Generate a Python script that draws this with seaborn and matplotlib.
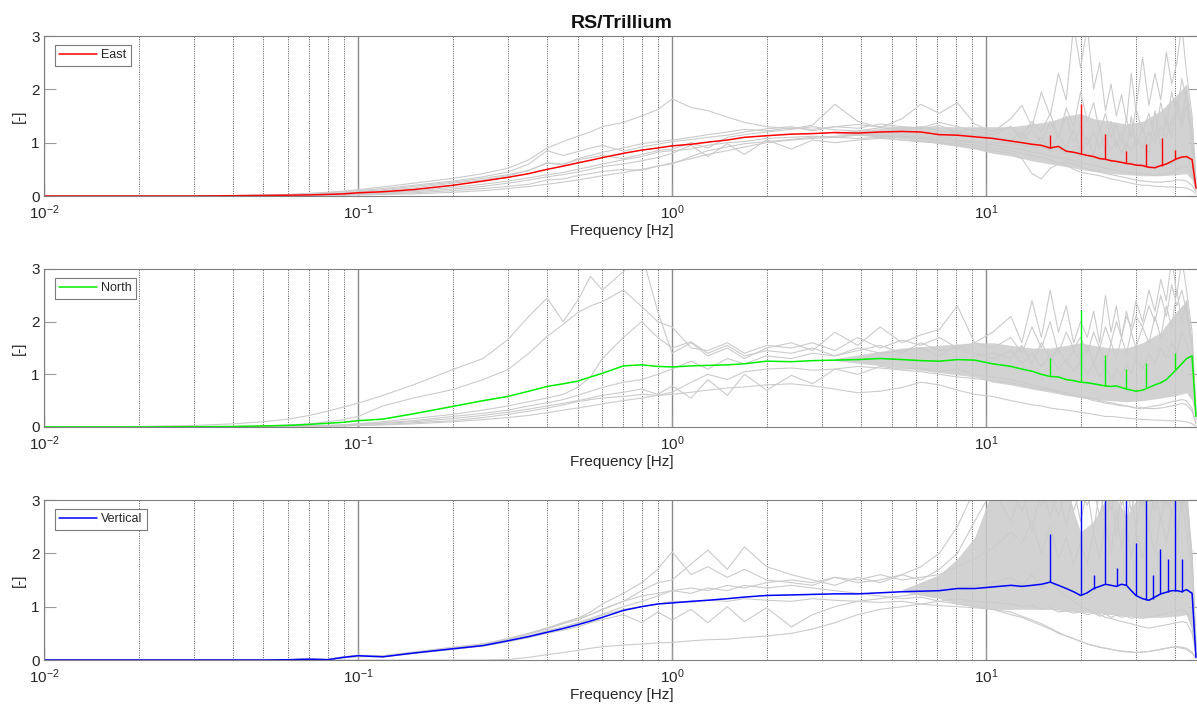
import matplotlib
matplotlib.use("Agg")
import matplotlib.pyplot as plt
import seaborn as sns
from matplotlib.ticker import LogLocator, FixedLocator, NullFormatter

sns.set_style("white")
plt.rcParams['font.family'] = ['Liberation Sans', 'DejaVu Sans']
plt.rcParams['mathtext.fontset'] = 'custom'
plt.rcParams['mathtext.rm'] = 'Liberation Sans'
plt.rcParams['mathtext.it'] = 'Liberation Sans:italic'
plt.rcParams['axes.unicode_minus'] = False

# ---------------- data ----------------
FREQ = [0.01, 0.02, 0.03, 0.04, 0.05, 0.06, 0.07, 0.08, 0.09, 0.1,
        0.12, 0.15, 0.2, 0.25, 0.3, 0.35, 0.4, 0.45, 0.5, 0.55,
        0.6, 0.7, 0.8, 0.9, 1.0, 1.15, 1.3, 1.5, 1.7, 2.0,
        2.4, 2.8, 3.3, 3.9, 4.6, 5.4, 6.2, 7.1, 8.1, 9.2,
        10.5, 12, 13, 14, 15, 16, 17, 18, 19, 20,
        21, 22, 23, 24, 25, 26, 27, 28, 29, 30,
        31.5, 33, 34.5, 36, 37.5, 39, 40.5, 42, 43.5, 45.3, 46.6]

# ---- East ----
EAST_MEAN = [0, 0, 0, 0.005, 0.01, 0.015, 0.02, 0.03, 0.04, 0.06,
             0.08, 0.12, 0.2, 0.28, 0.35, 0.42, 0.5, 0.56, 0.62, 0.67,
             0.72, 0.8, 0.86, 0.9, 0.94, 0.97, 1.01, 1.05, 1.1, 1.13,
             1.16, 1.17, 1.19, 1.18, 1.2, 1.21, 1.2, 1.15, 1.14, 1.11,
             1.08, 1.03, 1.0, 0.97, 0.95, 0.9, 0.93, 0.84, 0.82, 0.79,
             0.76, 0.74, 0.7, 0.69, 0.66, 0.65, 0.63, 0.61, 0.6, 0.58,
             0.57, 0.54, 0.53, 0.57, 0.6, 0.65, 0.7, 0.73, 0.74, 0.68, 0.15]
EAST_G1 = [0, 0, 0.005, 0.01, 0.02, 0.03, 0.05, 0.07, 0.09, 0.12,
           0.17, 0.24, 0.33, 0.42, 0.52, 0.68, 0.9, 1.02, 1.12, 1.2,
           1.3, 1.38, 1.5, 1.62, 1.82, 1.66, 1.6, 1.48, 1.38, 1.3,
           1.26, 1.33, 1.72, 1.4, 1.28, 1.45, 1.72, 1.55, 1.75, 1.35,
           1.2, 1.45, 1.7, 1.3, 1.95, 1.5, 2.3, 1.8, 3.2, 2.4,
           3.2, 2.0, 2.5, 1.6, 2.1, 1.5, 1.9, 1.4, 2.3, 1.6,
           2.6, 1.7, 2.3, 1.8, 2.7, 2.1, 2.5, 3.2, 2.3, 1.5, 0.3]
EAST_G2 = [0, 0, 0.005, 0.01, 0.015, 0.025, 0.04, 0.06, 0.08, 0.1,
           0.14, 0.2, 0.28, 0.36, 0.45, 0.6, 0.85, 0.76, 0.83, 0.9,
           0.95, 0.84, 0.92, 0.97, 1.02, 1.06, 1.1, 1.14, 1.2, 1.26,
           1.3, 1.22, 1.3, 1.34, 1.3, 1.28, 1.26, 1.32, 1.2, 1.26,
           1.22, 1.3, 1.12, 1.4, 1.2, 1.55, 1.1, 1.65, 1.3, 1.95,
           1.4, 1.75, 1.2, 1.55, 1.1, 1.35, 1.0, 1.45, 1.1, 1.65,
           1.2, 1.55, 1.1, 1.75, 1.3, 1.95, 1.5, 2.2, 1.8, 1.2, 0.2]
EAST_G3 = [0, 0, 0, 0, 0.005, 0.01, 0.015, 0.02, 0.03, 0.04,
           0.06, 0.08, 0.13, 0.18, 0.24, 0.3, 0.36, 0.4, 0.45, 0.5,
           0.55, 0.6, 0.66, 0.72, 0.8, 0.95, 0.74, 0.98, 0.78, 1.05,
           0.88, 1.05, 1.0, 1.05, 1.08, 1.05, 1.02, 1.0, 0.95, 0.9,
           0.85, 0.8, 0.7, 0.42, 0.32, 0.52, 0.6, 0.64, 0.6, 0.55,
           0.5, 0.48, 0.45, 0.42, 0.4, 0.38, 0.36, 0.34, 0.32, 0.3,
           0.28, 0.27, 0.26, 0.26, 0.27, 0.28, 0.3, 0.3, 0.28, 0.2, 0.08]
EAST_G4 = [0, 0, 0, 0, 0, 0.005, 0.01, 0.012, 0.015, 0.02,
           0.03, 0.04, 0.07, 0.1, 0.14, 0.18, 0.22, 0.26, 0.3, 0.34,
           0.38, 0.44, 0.5, 0.56, 0.62, 0.7, 0.78, 0.85, 0.92, 1.0,
           1.05, 1.08, 1.1, 1.08, 1.1, 1.05, 1.02, 1.0, 0.98, 0.95,
           0.9, 0.85, 0.8, 0.76, 0.72, 0.68, 0.62, 0.58, 0.5, 0.45,
           0.42, 0.4, 0.38, 0.35, 0.32, 0.3, 0.28, 0.26, 0.24, 0.22,
           0.2, 0.2, 0.18, 0.18, 0.17, 0.17, 0.16, 0.16, 0.15, 0.1, 0.04]
EAST_G5 = [0, 0, 0, 0.005, 0.01, 0.02, 0.03, 0.04, 0.05, 0.07,
           0.1, 0.15, 0.24, 0.3, 0.38, 0.48, 0.62, 0.58, 0.7, 0.76,
           0.82, 0.9, 0.98, 1.02, 1.05, 1.1, 1.15, 1.2, 1.25, 1.22,
           1.28, 1.25, 1.3, 1.27, 1.35, 1.3, 1.28, 1.38, 1.3, 1.22,
           1.15, 1.3, 1.05, 1.25, 1.0, 1.4, 1.1, 1.5, 1.0, 1.3,
           0.95, 1.2, 0.9, 1.1, 0.85, 1.05, 0.8, 1.0, 0.85, 1.1,
           0.9, 1.2, 1.0, 1.3, 1.1, 1.4, 1.6, 1.3, 1.7, 1.0, 0.2]
EAST_G6 = [0, 0, 0, 0, 0.005, 0.01, 0.02, 0.025, 0.03, 0.04,
           0.06, 0.1, 0.16, 0.22, 0.28, 0.34, 0.4, 0.44, 0.5, 0.55,
           0.6, 0.68, 0.74, 0.82, 0.85, 0.88, 0.95, 1.0, 1.02, 1.08,
           1.1, 1.12, 1.1, 1.14, 1.12, 1.1, 1.08, 1.05, 1.02, 1.0,
           0.96, 0.9, 0.88, 0.82, 0.8, 0.75, 0.72, 0.7, 0.66, 0.62,
           0.6, 0.58, 0.55, 0.52, 0.5, 0.48, 0.46, 0.45, 0.44, 0.42,
           0.42, 0.4, 0.38, 0.4, 0.42, 0.45, 0.5, 0.55, 0.55, 0.4, 0.1]
EAST_G7 = [0, 0, 0, 0.005, 0.01, 0.02, 0.03, 0.05, 0.06, 0.08,
           0.12, 0.18, 0.26, 0.33, 0.4, 0.48, 0.62, 0.6, 0.68, 0.72,
           0.76, 0.7, 0.78, 0.85, 0.88, 1.0, 0.9, 1.1, 1.15, 1.2,
           1.25, 1.3, 1.24, 1.22, 1.28, 1.24, 1.3, 1.22, 1.18, 1.15,
           1.1, 1.05, 1.2, 0.95, 1.1, 0.85, 1.15, 0.9, 1.25, 0.8,
           1.1, 0.75, 1.3, 0.8, 1.4, 0.9, 1.2, 0.8, 1.5, 0.9,
           1.3, 0.8, 1.6, 0.9, 1.5, 1.1, 1.8, 1.4, 2.0, 0.8, 0.15]
EAST_G8 = [0, 0, 0, 0, 0, 0.005, 0.01, 0.015, 0.02, 0.03,
           0.04, 0.06, 0.1, 0.14, 0.18, 0.22, 0.3, 0.32, 0.38, 0.42,
           0.46, 0.5, 0.48, 0.56, 0.6, 0.74, 0.85, 0.92, 0.98, 1.02,
           1.06, 1.1, 1.12, 1.15, 1.14, 1.12, 1.1, 1.1, 1.05, 1.02,
           1.0, 0.98, 0.95, 0.9, 0.92, 0.85, 0.88, 0.8, 0.85, 0.75,
           0.8, 0.7, 0.75, 0.65, 0.7, 0.62, 0.66, 0.58, 0.64, 0.56,
           0.6, 0.52, 0.58, 0.55, 0.62, 0.6, 0.68, 0.7, 0.72, 0.5, 0.12]
# dense grey mass (envelope of the many overlapping records)
EAST_BAND_F = [3.3, 5.4, 9.2, 10.5, 12, 14, 16, 18, 20, 22, 25, 28, 31.5, 36, 40.5, 43.5, 45.3, 46.6]
EAST_BAND_LO = [1.17, 1.08, 0.88, 0.8, 0.75, 0.66, 0.6, 0.55, 0.5, 0.46, 0.42, 0.4, 0.38, 0.38, 0.4, 0.42, 0.3, 0.1]
EAST_BAND_HI = [1.2, 1.3, 1.3, 1.3, 1.3, 1.35, 1.4, 1.5, 1.55, 1.45, 1.4, 1.35, 1.4, 1.6, 1.9, 2.1, 1.4, 0.3]
EAST_SPIKE_F = [16.0, 20.1, 24.0, 28.0, 32.3, 36.3, 40.1]
EAST_SPIKE_BASE = [0.9, 0.79, 0.69, 0.61, 0.55, 0.57, 0.7]
EAST_SPIKE_TOP = [1.14, 1.72, 1.16, 0.85, 0.97, 1.09, 0.87]

# ---- North ----
NORTH_MEAN = [0, 0, 0.005, 0.01, 0.02, 0.03, 0.05, 0.07, 0.09, 0.12,
              0.15, 0.25, 0.39, 0.5, 0.58, 0.68, 0.77, 0.82, 0.87, 0.95,
              1.02, 1.16, 1.18, 1.15, 1.14, 1.16, 1.17, 1.18, 1.2, 1.25,
              1.24, 1.26, 1.27, 1.28, 1.3, 1.28, 1.26, 1.25, 1.28, 1.27,
              1.2, 1.15, 1.1, 1.06, 1.0, 0.96, 0.95, 0.9, 0.88, 0.85,
              0.84, 0.82, 0.8, 0.78, 0.77, 0.78, 0.75, 0.72, 0.7, 0.68,
              0.7, 0.75, 0.8, 0.84, 0.9, 1.0, 1.1, 1.2, 1.3, 1.35, 0.2]
NORTH_G1 = [0, 0.01, 0.03, 0.06, 0.1, 0.15, 0.22, 0.3, 0.38, 0.45,
            0.6, 0.8, 1.09, 1.3, 1.66, 2.1, 2.45, 2.0, 2.4, 2.86,
            2.6, 2.95, 3.3, 2.2, 1.4, 1.6, 1.35, 1.5, 1.3, 1.5,
            1.6, 1.45, 1.8, 1.55, 1.9, 1.6, 1.75, 1.85, 2.3, 1.6,
            1.8, 2.1, 1.6, 2.4, 1.7, 2.6, 1.8, 2.3, 1.6, 2.0,
            1.7, 2.2, 1.6, 2.5, 1.8, 2.3, 1.7, 2.1, 1.9, 2.4,
            2.0, 2.6, 2.2, 2.8, 2.4, 3.2, 2.5, 3.2, 2.6, 1.8, 0.3]
NORTH_G2 = [0, 0, 0.005, 0.01, 0.02, 0.04, 0.06, 0.1, 0.14, 0.2,
            0.4, 0.55, 0.71, 0.9, 1.09, 1.4, 1.72, 1.95, 2.17, 2.3,
            2.38, 2.6, 2.29, 2.0, 1.9, 1.5, 1.45, 1.6, 1.4, 1.55,
            1.5, 1.6, 1.45, 1.7, 1.5, 1.65, 1.55, 1.7, 1.5, 1.6,
            1.5, 1.7, 1.4, 1.9, 1.5, 2.0, 1.4, 1.8, 1.5, 1.7,
            1.4, 1.8, 1.5, 1.9, 1.6, 2.0, 1.7, 2.2, 1.8, 2.1,
            1.9, 2.3, 2.0, 2.5, 2.1, 2.7, 2.3, 2.6, 2.2, 1.5, 0.25]
NORTH_G3 = [0, 0, 0, 0.005, 0.01, 0.015, 0.02, 0.03, 0.04, 0.06,
            0.1, 0.16, 0.24, 0.32, 0.4, 0.48, 0.55, 0.62, 0.75, 0.95,
            1.3, 1.7, 2.0, 1.7, 1.5, 1.62, 1.4, 1.55, 1.35, 1.45,
            1.4, 1.5, 1.35, 1.45, 1.55, 1.4, 1.6, 1.45, 1.5, 1.35,
            1.4, 1.3, 1.55, 1.2, 1.6, 1.3, 1.5, 1.2, 1.45, 1.25,
            1.55, 1.2, 1.5, 1.15, 1.6, 1.3, 1.7, 1.4, 1.8, 1.5,
            1.9, 1.6, 2.1, 1.7, 2.3, 1.9, 2.6, 2.0, 2.4, 1.6, 0.25]
NORTH_G4 = [0, 0, 0, 0, 0.005, 0.01, 0.015, 0.02, 0.03, 0.05,
            0.07, 0.1, 0.16, 0.22, 0.28, 0.34, 0.4, 0.45, 0.5, 0.55,
            0.6, 0.66, 0.72, 0.62, 0.78, 0.55, 0.9, 0.6, 1.0, 0.7,
            0.98, 0.82, 1.1, 1.0, 1.15, 1.1, 1.12, 1.05, 1.1, 1.0,
            0.95, 0.9, 0.85, 0.8, 0.76, 0.72, 0.68, 0.64, 0.6, 0.56,
            0.54, 0.5, 0.48, 0.45, 0.44, 0.42, 0.4, 0.4, 0.38, 0.36,
            0.36, 0.38, 0.4, 0.42, 0.45, 0.48, 0.5, 0.52, 0.5, 0.35, 0.08]
NORTH_G5 = [0, 0, 0, 0, 0, 0.005, 0.01, 0.015, 0.02, 0.03,
            0.04, 0.06, 0.1, 0.14, 0.18, 0.22, 0.27, 0.32, 0.36, 0.4,
            0.44, 0.5, 0.55, 0.6, 0.62, 0.66, 0.7, 0.74, 0.76, 0.8,
            0.82, 0.78, 0.72, 0.65, 0.68, 0.75, 0.85, 0.8, 0.7, 0.62,
            0.58, 0.5, 0.46, 0.42, 0.4, 0.36, 0.34, 0.32, 0.3, 0.28,
            0.26, 0.24, 0.22, 0.2, 0.2, 0.19, 0.18, 0.17, 0.16, 0.15,
            0.14, 0.14, 0.13, 0.13, 0.12, 0.12, 0.12, 0.11, 0.1, 0.06, 0.02]
NORTH_G6 = [0, 0, 0, 0.005, 0.01, 0.015, 0.02, 0.03, 0.04, 0.06,
            0.08, 0.12, 0.2, 0.26, 0.32, 0.4, 0.46, 0.52, 0.6, 0.68,
            0.75, 0.85, 0.9, 1.0, 1.1, 1.25, 1.1, 1.3, 1.2, 1.35,
            1.3, 1.4, 1.35, 1.5, 1.4, 1.45, 1.5, 1.35, 1.55, 1.4,
            1.3, 1.45, 1.2, 1.4, 1.15, 1.35, 1.1, 1.3, 1.05, 1.25,
            1.0, 1.2, 0.95, 1.15, 0.9, 1.1, 0.95, 1.2, 1.0, 1.3,
            1.1, 1.4, 1.2, 1.5, 1.3, 1.6, 1.4, 1.8, 1.6, 1.2, 0.2]
NORTH_G7 = [0, 0, 0, 0, 0.005, 0.01, 0.015, 0.02, 0.025, 0.035,
            0.05, 0.08, 0.12, 0.18, 0.24, 0.3, 0.36, 0.42, 0.48, 0.52,
            0.55, 0.58, 0.62, 0.6, 0.66, 0.85, 1.0, 0.9, 1.05, 1.1,
            1.12, 1.08, 1.1, 1.15, 1.12, 1.08, 1.05, 1.0, 0.95, 0.92,
            0.88, 0.84, 0.8, 0.75, 0.72, 0.7, 0.66, 0.64, 0.6, 0.58,
            0.56, 0.54, 0.5, 0.48, 0.46, 0.44, 0.42, 0.4, 0.38, 0.36,
            0.36, 0.35, 0.35, 0.36, 0.38, 0.4, 0.42, 0.45, 0.42, 0.3, 0.06]
NORTH_BAND_F = [3.3, 5.4, 9.2, 10.5, 12, 14, 16, 18, 20, 22, 25, 28, 31.5, 36, 40.5, 43.5, 45.3, 46.6]
NORTH_BAND_LO = [1.26, 1.12, 0.95, 0.85, 0.8, 0.72, 0.66, 0.6, 0.56, 0.52, 0.5, 0.48, 0.5, 0.55, 0.6, 0.65, 0.5, 0.1]
NORTH_BAND_HI = [1.3, 1.5, 1.6, 1.6, 1.55, 1.5, 1.5, 1.55, 1.6, 1.55, 1.5, 1.5, 1.6, 1.8, 2.2, 2.4, 1.6, 0.3]
NORTH_SPIKE_F = [16.0, 20.1, 24.0, 28.0, 32.3, 40.1]
NORTH_SPIKE_BASE = [0.96, 0.85, 0.78, 0.72, 0.75, 1.1]
NORTH_SPIKE_TOP = [1.31, 2.23, 1.37, 1.1, 1.21, 1.4]

# ---- Vertical ----
VERT_MEAN = [0, 0, 0, 0, 0, 0.005, 0.015, 0.005, 0.05, 0.08,
             0.06, 0.13, 0.21, 0.27, 0.36, 0.44, 0.52, 0.59, 0.66, 0.73,
             0.8, 0.93, 1.0, 1.05, 1.07, 1.1, 1.12, 1.15, 1.18, 1.21,
             1.22, 1.23, 1.24, 1.24, 1.26, 1.28, 1.29, 1.3, 1.34, 1.34,
             1.37, 1.4, 1.38, 1.4, 1.42, 1.46, 1.4, 1.34, 1.28, 1.21,
             1.26, 1.34, 1.38, 1.42, 1.4, 1.38, 1.42, 1.4, 1.3, 1.21,
             1.15, 1.12, 1.18, 1.24, 1.27, 1.3, 1.3, 1.28, 1.32, 1.25, 0.05]
VERT_G1 = [0, 0, 0, 0, 0, 0.005, 0.02, 0.01, 0.06, 0.09,
           0.08, 0.15, 0.24, 0.3, 0.4, 0.5, 0.6, 0.7, 0.78, 0.9,
           1.05, 1.25, 1.45, 1.7, 2.03, 1.6, 1.75, 1.55, 1.7, 1.5,
           1.45, 1.4, 1.55, 1.45, 1.5, 1.6, 1.5, 1.7, 2.0, 2.6,
           3.2, 3.2, 2.8, 3.2, 2.9, 3.2, 2.7, 3.2, 2.8, 3.2,
           2.9, 3.2, 2.7, 3.2, 2.8, 3.2, 2.9, 3.2, 2.8, 3.2,
           2.9, 3.2, 2.8, 3.2, 2.9, 3.2, 3.2, 3.2, 2.8, 2.0, 0.3]
VERT_G2 = [0, 0, 0, 0, 0, 0.005, 0.02, 0.01, 0.05, 0.08,
           0.07, 0.14, 0.22, 0.3, 0.38, 0.48, 0.58, 0.68, 0.75, 0.85,
           0.95, 1.1, 1.3, 1.45, 1.5, 1.8, 2.06, 1.7, 2.12, 1.75,
           1.6, 1.5, 1.4, 1.55, 1.45, 1.6, 1.75, 2.0, 2.5, 3.2,
           3.2, 2.6, 3.2, 2.4, 3.2, 2.7, 3.2, 2.5, 3.2, 2.6,
           3.2, 2.4, 3.2, 2.6, 3.2, 2.3, 3.2, 2.5, 3.2, 2.4,
           3.2, 2.5, 3.2, 2.6, 3.2, 2.7, 3.2, 2.8, 3.2, 1.8, 0.25]
VERT_G3 = [0, 0, 0, 0, 0, 0.005, 0.015, 0.005, 0.04, 0.06,
           0.06, 0.12, 0.2, 0.26, 0.34, 0.42, 0.5, 0.56, 0.62, 0.7,
           0.76, 0.85, 0.7, 0.9, 0.75, 0.95, 0.7, 1.0, 0.72, 0.98,
           0.62, 0.85, 1.0, 1.1, 1.15, 1.2, 1.25, 1.3, 1.35, 1.4,
           1.45, 1.55, 1.4, 1.6, 1.35, 1.5, 1.3, 1.2, 1.1, 1.0,
           0.95, 0.9, 0.85, 0.8, 0.78, 0.75, 0.72, 0.7, 0.68, 0.65,
           0.62, 0.6, 0.62, 0.64, 0.66, 0.68, 0.7, 0.72, 0.7, 0.5, 0.1]
VERT_G4 = [0, 0, 0, 0, 0, 0, 0, 0, 0, 0,
           0, 0, 0, 0, 0.01, 0.05, 0.1, 0.14, 0.18, 0.22,
           0.25, 0.28, 0.3, 0.32, 0.33, 0.36, 0.38, 0.39, 0.42, 0.45,
           0.5, 0.58, 0.7, 0.85, 0.95, 1.0, 1.05, 1.1, 1.05, 1.0,
           0.95, 0.85, 0.8, 0.72, 0.65, 0.58, 0.5, 0.45, 0.4, 0.35,
           0.3, 0.27, 0.24, 0.22, 0.2, 0.18, 0.17, 0.16, 0.15, 0.14,
           0.15, 0.16, 0.18, 0.2, 0.22, 0.24, 0.25, 0.24, 0.22, 0.15, 0.04]
VERT_G5 = [0, 0, 0, 0, 0, 0.005, 0.02, 0.008, 0.05, 0.07,
           0.07, 0.13, 0.21, 0.28, 0.37, 0.45, 0.55, 0.62, 0.7, 0.78,
           0.86, 1.0, 1.1, 1.2, 1.3, 1.25, 1.35, 1.3, 1.4, 1.35,
           1.4, 1.35, 1.3, 1.25, 1.2, 1.15, 1.18, 1.1, 1.15, 1.1,
           1.08, 1.05, 1.0, 1.02, 0.95, 0.98, 0.9, 0.92, 0.88, 0.9,
           0.85, 0.88, 0.82, 0.86, 0.8, 0.84, 0.8, 0.82, 0.78, 0.8,
           0.78, 0.8, 0.82, 0.85, 0.88, 0.9, 0.92, 0.95, 0.9, 0.6, 0.1]
VERT_G6 = [0, 0, 0, 0, 0, 0.005, 0.02, 0.01, 0.06, 0.08,
           0.08, 0.14, 0.23, 0.3, 0.4, 0.5, 0.6, 0.7, 0.78, 0.85,
           0.95, 1.1, 1.2, 1.25, 1.3, 1.35, 1.3, 1.4, 1.35, 1.45,
           1.5, 1.45, 1.55, 1.5, 1.6, 1.5, 1.55, 1.6, 1.75, 1.9,
           2.1, 2.4, 2.2, 2.6, 2.0, 2.5, 1.9, 2.3, 1.8, 2.2,
           1.8, 2.4, 1.9, 2.6, 2.0, 2.8, 2.1, 2.6, 1.9, 2.4,
           1.9, 2.5, 2.0, 2.7, 2.2, 2.8, 2.3, 3.0, 2.4, 1.6, 0.2]
VERT_G7 = [0, 0, 0, 0, 0, 0.005, 0.015, 0.008, 0.05, 0.07,
           0.07, 0.13, 0.2, 0.27, 0.36, 0.44, 0.53, 0.6, 0.68, 0.76,
           0.84, 0.95, 1.0, 1.05, 1.1, 1.08, 1.12, 1.1, 1.15, 1.12,
           1.1, 1.15, 1.12, 1.1, 1.08, 1.1, 1.05, 1.02, 1.0, 0.98,
           0.95, 0.9, 0.82, 0.75, 0.68, 0.6, 0.52, 0.45, 0.4, 0.35,
           0.3, 0.27, 0.24, 0.22, 0.2, 0.18, 0.16, 0.15, 0.15, 0.14,
           0.15, 0.16, 0.18, 0.2, 0.22, 0.24, 0.24, 0.22, 0.2, 0.12, 0.03]
VERT_BAND_F = [5.4, 7.1, 8.1, 9.2, 10.5, 12, 14, 16, 18, 20, 22, 25, 28, 31.5, 36, 40.5, 43.5, 45.3, 46.6]
VERT_BAND_LO = [1.28, 1.15, 1.05, 1.0, 0.95, 0.95, 0.95, 0.95, 0.92, 0.9, 0.88, 0.85, 0.82, 0.8, 0.8, 0.82, 0.85, 0.6, 0.1]
VERT_BAND_HI = [1.32, 1.6, 1.9, 2.3, 3.2, 3.2, 3.2, 3.2, 3.2, 2.4, 2.6, 3.2, 2.7, 3.2, 3.2, 3.2, 3.2, 2.0, 0.3]
VERT_SPIKE_F = [16.0, 20.1, 22.1, 24.0, 26.1, 28.0, 30.0, 32.3, 34.0, 35.8, 38.1, 40.1, 42.0]
VERT_SPIKE_BASE = [1.46, 1.21, 1.34, 1.42, 1.38, 1.4, 1.21, 1.12, 1.14, 1.24, 1.27, 1.3, 1.28]
VERT_SPIKE_TOP = [2.37, 3.2, 1.6, 3.2, 1.72, 3.2, 2.19, 3.2, 1.6, 2.08, 1.9, 3.2, 1.9]

PANELS = [
    ("East", "#ff0000", EAST_MEAN,
     [EAST_G1, EAST_G2, EAST_G3, EAST_G4, EAST_G5, EAST_G6, EAST_G7, EAST_G8],
     EAST_BAND_F, EAST_BAND_LO, EAST_BAND_HI,
     EAST_SPIKE_F, EAST_SPIKE_BASE, EAST_SPIKE_TOP),
    ("North", "#00ee00", NORTH_MEAN,
     [NORTH_G1, NORTH_G2, NORTH_G3, NORTH_G4, NORTH_G5, NORTH_G6, NORTH_G7],
     NORTH_BAND_F, NORTH_BAND_LO, NORTH_BAND_HI,
     NORTH_SPIKE_F, NORTH_SPIKE_BASE, NORTH_SPIKE_TOP),
    ("Vertical", "#0000ff", VERT_MEAN,
     [VERT_G1, VERT_G2, VERT_G3, VERT_G4, VERT_G5, VERT_G6, VERT_G7],
     VERT_BAND_F, VERT_BAND_LO, VERT_BAND_HI,
     VERT_SPIKE_F, VERT_SPIKE_BASE, VERT_SPIKE_TOP),
]
TITLE = "RS/Trillium"
XLABEL = "Frequency [Hz]"
YLABEL = "[-]"

# ---------------- layout ----------------
W, H = 1197, 706
fig = plt.figure(figsize=(W / 100, H / 100), dpi=100)
ax_left_px, ax_right_px = 44, 1200
panel_px = [(36, 196), (269, 427), (500, 660)]
GREY = "#cbcbcb"
TXT = "#262626"
SPINE = "#808080"

for i, (name, color, mean, greys, bf, blo, bhi, sf, sb, st) in enumerate(PANELS):
    top, bot = panel_px[i]
    ax = fig.add_axes([ax_left_px / W, 1 - bot / H,
                       (ax_right_px - ax_left_px) / W, (bot - top) / H])
    ax.set_xscale("log")
    ax.fill_between(bf, blo, bhi, color=GREY, lw=0, alpha=0.85)
    for g in greys:
        sns.lineplot(x=FREQ, y=g, ax=ax, color=GREY, lw=0.8,
                     estimator=None, sort=False, legend=False)
    sns.lineplot(x=FREQ, y=mean, ax=ax, color=color, lw=1.1,
                 estimator=None, sort=False, label=name)
    ax.vlines(sf, sb, st, color=color, lw=1.0)

    ax.set_xlim(0.01, 48)
    ax.set_ylim(0, 3)
    ax.set_yticks([0, 1, 2, 3])
    ax.xaxis.set_major_locator(FixedLocator([0.01, 0.1, 1, 10]))
    ax.xaxis.set_minor_locator(LogLocator(base=10, subs=[2, 3, 4, 5, 6, 7, 8, 9], numticks=20))
    ax.xaxis.set_minor_formatter(NullFormatter())
    ax.set_axisbelow(True)
    ax.grid(False)
    ax.grid(which="major", axis="x", color="#8a8a8a", lw=1.0, ls="-")
    ax.grid(which="minor", axis="x", color="#404040", lw=0.6, ls=(0, (1.2, 1.6)))

    ax.tick_params(axis="y", which="both", direction="in", length=8.5, width=0.8,
                   color="#9a9a9a", labelsize=11, labelcolor=TXT, pad=3,
                   left=True, right=True)
    ax.tick_params(axis="x", which="major", direction="in", length=8.5, width=0.8,
                   color="#9a9a9a", labelsize=11, labelcolor=TXT, pad=5, bottom=True)
    ax.tick_params(axis="x", which="minor", direction="in", length=0, bottom=False)
    for s in ax.spines.values():
        s.set_color(SPINE)
        s.set_linewidth(0.8)

    ax.set_xlabel(XLABEL, fontsize=11, color=TXT, labelpad=2)
    ax.set_ylabel(YLABEL, fontsize=11, color=TXT, labelpad=4)

    leg = ax.legend(loc="upper left", bbox_to_anchor=(11 / 1156, 1 - 9 / 160),
                    borderaxespad=0, fontsize=9, handlelength=3.0,
                    handletextpad=0.35, borderpad=0.35, frameon=True,
                    fancybox=False, framealpha=1, edgecolor="#7a7a7a")
    leg.get_frame().set_linewidth(0.8)

    if i == 0:
        ax.set_title(TITLE, fontsize=14, fontweight="bold", pad=6, color="#111111")

fig.savefig("out.png", dpi=100)
